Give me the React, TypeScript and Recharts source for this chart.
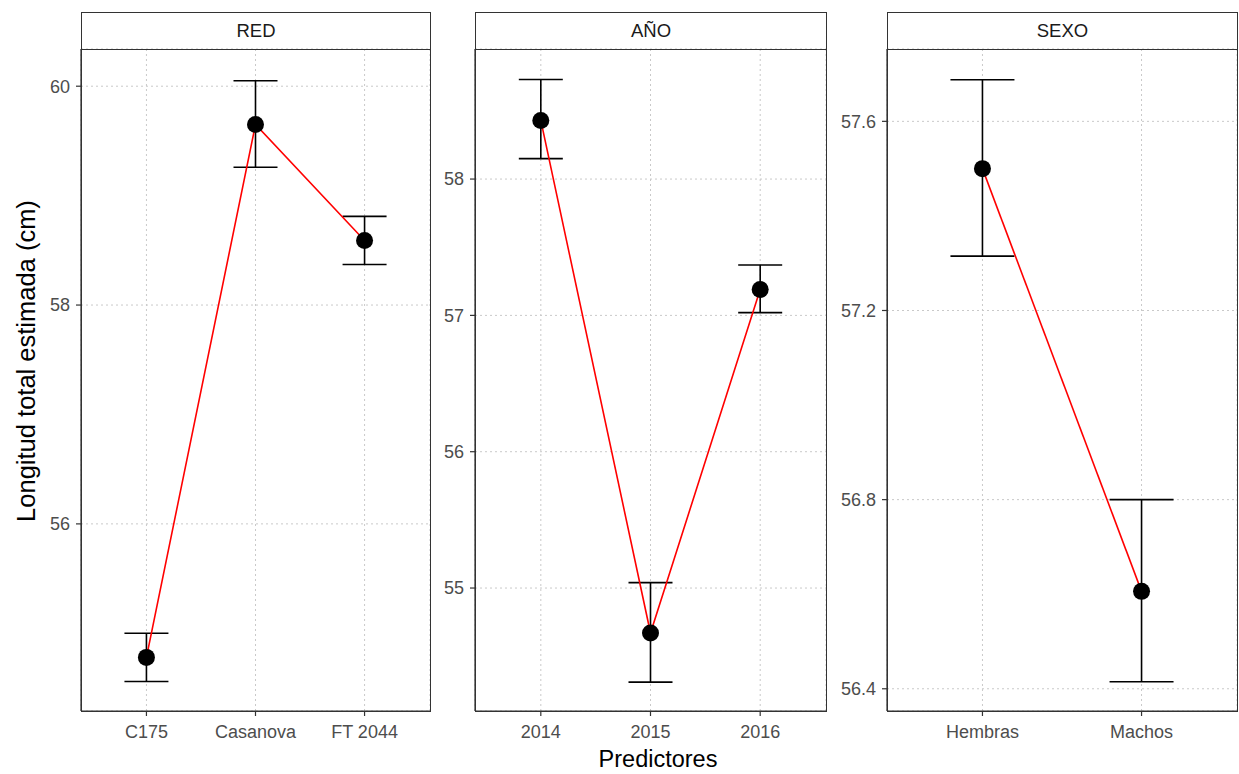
import React from 'react';
import {
  ComposedChart,
  Scatter,
  Line,
  XAxis,
  YAxis,
  CartesianGrid,
  ErrorBar,
} from 'recharts';

// ---------- data ----------
const redCategories = ['C175', 'Casanova', 'FT 2044'];
const redValues = [54.78, 59.65, 58.59];
const redLow = [54.56, 59.26, 58.37];
const redHigh = [55.0, 60.05, 58.81];
const redTicks = [56, 58, 60];

const anoCategories = ['2014', '2015', '2016'];
const anoValues = [58.43, 54.67, 57.19];
const anoLow = [58.15, 54.31, 57.02];
const anoHigh = [58.73, 55.04, 57.37];
const anoTicks = [55, 56, 57, 58];

const sexoCategories = ['Hembras', 'Machos'];
const sexoValues = [57.5, 56.606];
const sexoLow = [57.315, 56.415];
const sexoHigh = [57.688, 56.8];
const sexoTicks = [56.4, 56.8, 57.2, 57.6];

const panelTitles = ['RED', 'AÑO', 'SEXO'];
const yTitle = 'Longitud total estimada (cm)';
const xTitle = 'Predictores';

const FONT = '"Liberation Sans", Arial, sans-serif';

type PanelProps = {
  title: string;
  categories: string[];
  values: number[];
  low: number[];
  high: number[];
  ticks: number[];
  domain: [number, number];
  decimals: number;
  left: number;
  yAxisWidth: number;
  plotWidth: number;
  rightMargin: number;
  capHalf: number;
};

const PLOT_TOP = 49;
const PLOT_BOTTOM = 711;
const STRIP_TOP = 12;
const CHART_H = 774;
const X_AXIS_H = 40;

const Dot = (props: any) => {
  const { cx, cy } = props;
  if (cx == null || cy == null) return null;
  return <circle cx={cx} cy={cy} r={8.5} fill="#000" />;
};

function Panel(p: PanelProps) {
  const rows = p.categories.map((c, i) => ({
    idx: i + 1,
    val: p.values[i],
    err: [p.values[i] - p.low[i], p.high[i] - p.values[i]],
  }));
  const width = p.yAxisWidth + p.plotWidth + p.rightMargin;
  const n = p.categories.length;
  const plotLeft = p.left + p.yAxisWidth;
  return (
    <>
      <div style={{ position: 'absolute', left: p.left, top: 0 }}>
        <ComposedChart
          width={width}
          height={CHART_H}
          data={rows}
          margin={{ top: PLOT_TOP, right: p.rightMargin, bottom: CHART_H - PLOT_BOTTOM - X_AXIS_H, left: 0 }}
        >
          <CartesianGrid stroke="#c9c9c9" strokeDasharray="2 3" strokeWidth={1} />
          <XAxis
            dataKey="idx"
            type="number"
            domain={[0.4, n + 0.6]}
            ticks={p.categories.map((_, i) => i + 1)}
            tickFormatter={(v: number) => p.categories[v - 1] ?? ''}
            allowDataOverflow
            height={X_AXIS_H}
            tickSize={5}
            tickMargin={9}
            axisLine={{ stroke: '#333', strokeWidth: 1.2 }}
            tickLine={{ stroke: '#333', strokeWidth: 1.2 }}
            tick={{ fill: '#4d4d4d', fontSize: 18, fontFamily: FONT }}
            interval={0}
          />
          <YAxis
            type="number"
            domain={p.domain}
            ticks={p.ticks}
            allowDataOverflow
            width={p.yAxisWidth}
            tickSize={5}
            tickMargin={6}
            tickFormatter={(v: number) => v.toFixed(p.decimals)}
            axisLine={{ stroke: '#333', strokeWidth: 1.2 }}
            tickLine={{ stroke: '#333', strokeWidth: 1.2 }}
            tick={{ fill: '#4d4d4d', fontSize: 18, fontFamily: FONT }}
            interval={0}
          />
          <Scatter dataKey="val" fill="#000" shape={Dot} isAnimationActive={false}>
            <ErrorBar dataKey="err" direction="y" width={p.capHalf} stroke="#000" strokeWidth={1.6} />
          </Scatter>
          <Line
            dataKey="val"
            type="linear"
            stroke="#ff0000"
            strokeWidth={1.6}
            dot={false}
            activeDot={false}
            isAnimationActive={false}
          />
        </ComposedChart>
      </div>
      {/* strip */}
      <div
        style={{
          position: 'absolute',
          left: plotLeft,
          top: STRIP_TOP,
          width: p.plotWidth + 1,
          height: PLOT_TOP - STRIP_TOP + 1,
          borderBottom: '1px solid #333',
          boxSizing: 'border-box',
          display: 'flex',
          alignItems: 'center',
          justifyContent: 'center',
          fontFamily: FONT,
          fontSize: 18.5,
          color: '#1a1a1a',
        }}
      >
        {p.title}
      </div>
      {/* panel border including strip */}
      <div
        style={{
          position: 'absolute',
          left: plotLeft,
          top: STRIP_TOP,
          width: p.plotWidth + 1,
          height: PLOT_BOTTOM - STRIP_TOP + 1,
          border: '1px solid #333',
          boxSizing: 'border-box',
          pointerEvents: 'none',
        }}
      />
    </>
  );
}

export default function App() {
  return (
    <div
      style={{
        position: 'absolute',
        left: 0,
        top: 0,
        width: 1239,
        height: 774,
        background: '#fff',
        fontFamily: FONT,
        overflow: 'hidden',
      }}
    >
      <svg width={1239} height={774} style={{ position: 'absolute', left: 0, top: 0 }}>
        <text
          x={35}
          y={361}
          transform="rotate(-90, 35, 361)"
          textAnchor="middle"
          fontSize={25.5}
          fontFamily={FONT}
          fill="#000"
        >
          {yTitle}
        </text>
        <text x={658} y={767} textAnchor="middle" fontSize={23.5} fontFamily={FONT} fill="#000">
          {xTitle}
        </text>
      </svg>
      <Panel
        title={panelTitles[0]}
        categories={redCategories}
        values={redValues}
        low={redLow}
        high={redHigh}
        ticks={redTicks}
        domain={[54.29, 60.34]}
        decimals={0}
        left={0}
        yAxisWidth={81}
        plotWidth={349}
        rightMargin={10}
        capHalf={22}
      />
      <Panel
        title={panelTitles[1]}
        categories={anoCategories}
        values={anoValues}
        low={anoLow}
        high={anoHigh}
        ticks={anoTicks}
        domain={[54.098, 58.954]}
        decimals={0}
        left={440}
        yAxisWidth={35}
        plotWidth={351}
        rightMargin={10}
        capHalf={22}
      />
      <Panel
        title={panelTitles[2]}
        categories={sexoCategories}
        values={sexoValues}
        low={sexoLow}
        high={sexoHigh}
        ticks={sexoTicks}
        domain={[56.353, 57.753]}
        decimals={1}
        left={836}
        yAxisWidth={51}
        plotWidth={350}
        rightMargin={2}
        capHalf={32}
      />
    </div>
  );
}
